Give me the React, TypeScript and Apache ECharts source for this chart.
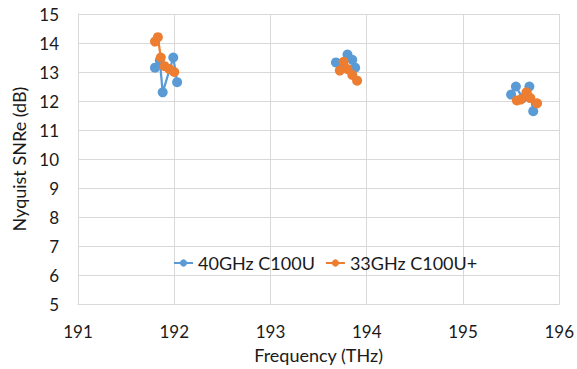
import React, { useEffect, useRef } from "react";
import * as echarts from "echarts";

const seriesNames = ["40GHz C100U", "33GHz C100U+"];
const blueX = [191.8, 191.85, 191.88, 191.99, 192.03, 193.68, 193.75, 193.8, 193.85, 193.88, 195.5, 195.55, 195.62, 195.69, 195.73];
const blueY = [13.15, 13.4, 12.3, 13.5, 12.65, 13.33, 13.25, 13.6, 13.42, 13.15, 12.22, 12.5, 12.1, 12.5, 11.65];
const orangeX = [191.8, 191.83, 191.86, 191.9, 191.95, 192.0, 193.72, 193.76, 193.8, 193.85, 193.9, 195.56, 195.6, 195.66, 195.7, 195.77];
const orangeY = [14.05, 14.2, 13.5, 13.2, 13.1, 13.0, 13.05, 13.35, 13.1, 12.9, 12.7, 12.02, 12.05, 12.3, 12.1, 11.92];
const xTicks = { min: 191, max: 196, interval: 1 };
const yTicks = { min: 5, max: 15, interval: 1 };

// split a series into separate runs wherever the frequency jumps (channel groups are not joined)
function groups(xs: number[], ys: number[]) {
  const out: number[][][] = [];
  let cur: number[][] = [];
  xs.forEach((x, i) => {
    if (cur.length && x - cur[cur.length - 1][0] > 0.5) {
      out.push(cur);
      cur = [];
    }
    cur.push([x, ys[i]]);
  });
  if (cur.length) out.push(cur);
  return out;
}

export default function App() {
  const ref = useRef<HTMLDivElement>(null);
  useEffect(() => {
    if (!ref.current) return;
    const chart = echarts.init(ref.current, undefined, { renderer: "svg" });
    const font = "Lato, 'Open Sans', sans-serif";
    const txt = "#1a1a1a";
    const colors = ["#5B9BD5", "#ED7D31"];
    const sets = [groups(blueX, blueY), groups(orangeX, orangeY)];
    const series: any[] = [];
    sets.forEach((gs, si) => {
      gs.forEach((g) => {
        series.push({
          name: seriesNames[si],
          type: "line",
          data: g,
          symbol: "circle",
          symbolSize: 10,
          itemStyle: { color: colors[si] },
          lineStyle: { color: colors[si], width: 2.25 },
        });
      });
    });
    chart.setOption({
      animation: false,
      textStyle: { fontFamily: font },
      grid: { left: 78, right: 15, top: 14, bottom: 61 },
      legend: {
        top: 249,
        left: 168,
        itemWidth: 19,
        itemHeight: 9,
        itemGap: 10,
        textStyle: { fontSize: 18, color: txt, fontFamily: font },
        data: seriesNames,
      },
      xAxis: {
        type: "value",
        min: xTicks.min,
        max: xTicks.max,
        interval: xTicks.interval,
        name: "Frequency (THz)",
        nameLocation: "middle",
        nameGap: 42,
        nameTextStyle: { fontSize: 18, color: txt },
        axisLine: { lineStyle: { color: "#d9d9d9" } },
        axisTick: { show: false },
        axisLabel: { fontSize: 17, color: txt, margin: 19 },
        splitLine: { lineStyle: { color: "#d9d9d9" } },
      },
      yAxis: {
        type: "value",
        min: yTicks.min,
        max: yTicks.max,
        interval: yTicks.interval,
        name: "Nyquist SNRe (dB)",
        nameLocation: "middle",
        nameGap: 44,
        nameTextStyle: { fontSize: 18, color: txt },
        axisLine: { show: true, lineStyle: { color: "#d9d9d9" } },
        axisTick: { show: false },
        axisLabel: { fontSize: 17, color: txt, margin: 19 },
        splitLine: { lineStyle: { color: "#d9d9d9" } },
      },
      series,
    });
    return () => chart.dispose();
  }, []);
  return <div ref={ref} style={{ width: 577, height: 369, position: "absolute", left: 0, top: 0 }} />;
}
